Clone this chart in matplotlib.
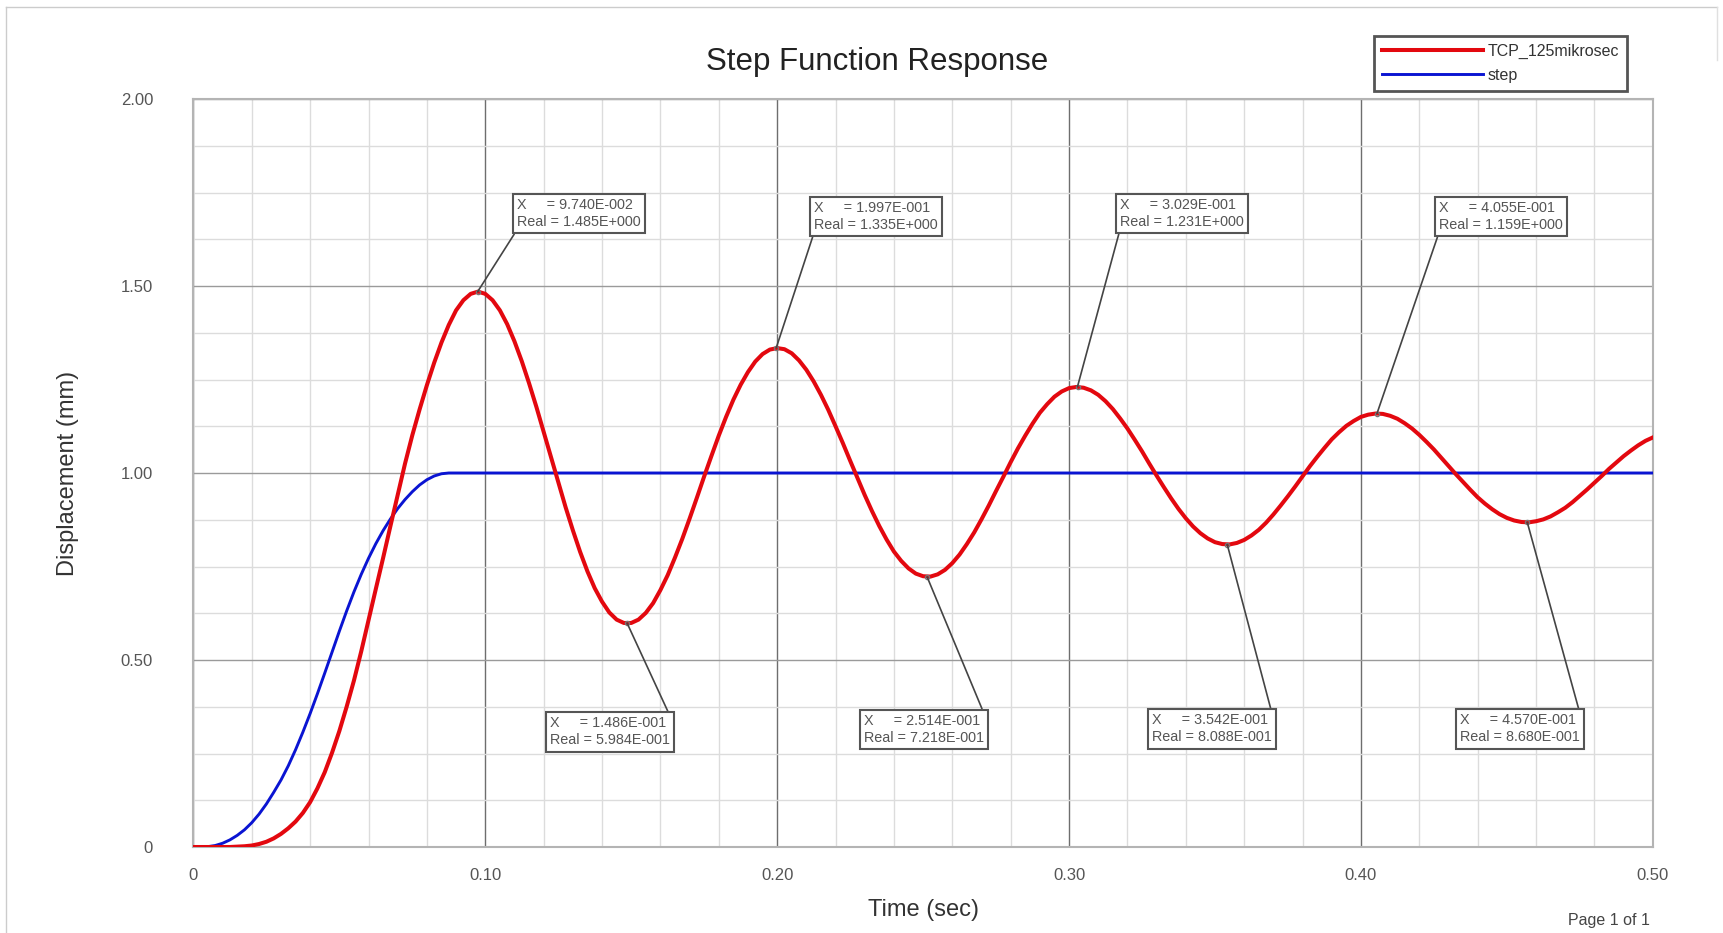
import numpy as np
import matplotlib
matplotlib.use("Agg")
import matplotlib.pyplot as plt
from matplotlib.lines import Line2D

plt.rcParams['font.family'] = ['Liberation Sans', 'DejaVu Sans']

# step input, sampled every 2.5 ms until it settles, then flat to 0.5 s
step_t = list(np.linspace(0.0, 0.0875, 36)) + [0.5]
step_v = [0.000, 0.000, 0.001, 0.004, 0.010, 0.019, 0.031, 0.046, 0.065, 0.088,
          0.115, 0.146, 0.179, 0.217, 0.260, 0.307, 0.357, 0.410, 0.465, 0.521,
          0.577, 0.631, 0.682, 0.729, 0.772, 0.811, 0.846, 0.877, 0.905, 0.929,
          0.950, 0.968, 0.982, 0.992, 0.998, 1.000,
          1.000]

# TCP_125mikrosec response, sampled every 2.5 ms from 0 to 0.5 s
tcp_t = np.linspace(0.0, 0.5, 201)
tcp_v = [0.000, 0.000, 0.000, 0.000, 0.000, 0.000, 0.001, 0.002, 0.004, 0.008,
         0.014, 0.023, 0.035, 0.050, 0.068, 0.091, 0.120, 0.157, 0.200, 0.252,
         0.310, 0.375, 0.445, 0.523, 0.607, 0.690, 0.773, 0.858, 0.941, 1.025,
         1.101, 1.170, 1.235, 1.295, 1.349, 1.396, 1.435, 1.462, 1.479, 1.485,
         1.479, 1.462, 1.435, 1.398, 1.352, 1.299, 1.240, 1.177, 1.110, 1.043,
         0.975, 0.909, 0.847, 0.789, 0.737, 0.692, 0.656, 0.627, 0.608, 0.599,
         0.599, 0.608, 0.626, 0.652, 0.687, 0.727, 0.774, 0.824, 0.878, 0.934,
         0.991, 1.046, 1.100, 1.150, 1.196, 1.236, 1.270, 1.298, 1.318, 1.330,
         1.334, 1.331, 1.320, 1.301, 1.276, 1.245, 1.209, 1.169, 1.125, 1.080,
         1.033, 0.987, 0.941, 0.898, 0.858, 0.822, 0.790, 0.765, 0.745, 0.731,
         0.724, 0.723, 0.729, 0.741, 0.759, 0.782, 0.810, 0.841, 0.876, 0.913,
         0.952, 0.990, 1.029, 1.066, 1.100, 1.132, 1.161, 1.184, 1.204, 1.218,
         1.227, 1.230, 1.228, 1.221, 1.209, 1.192, 1.171, 1.146, 1.119, 1.089,
         1.058, 1.025, 0.993, 0.962, 0.932, 0.904, 0.879, 0.857, 0.839, 0.825,
         0.815, 0.810, 0.809, 0.813, 0.821, 0.833, 0.848, 0.867, 0.889, 0.913,
         0.938, 0.964, 0.991, 1.018, 1.043, 1.067, 1.090, 1.109, 1.126, 1.139,
         1.150, 1.156, 1.159, 1.158, 1.153, 1.145, 1.133, 1.119, 1.102, 1.083,
         1.063, 1.041, 1.019, 0.997, 0.976, 0.955, 0.935, 0.918, 0.903, 0.890,
         0.880, 0.873, 0.869, 0.868, 0.871, 0.876, 0.884, 0.895, 0.907, 0.922,
         0.939, 0.956, 0.974, 0.992, 1.011, 1.028, 1.045, 1.060, 1.074, 1.086,
         1.095]

# marked extrema
peak_t = [0.09740, 0.1997, 0.3029, 0.4055]
peak_v = [1.485, 1.335, 1.231, 1.159]
peak_txt = [("9.740E-002", "1.485E+000"), ("1.997E-001", "1.335E+000"),
            ("3.029E-001", "1.231E+000"), ("4.055E-001", "1.159E+000")]
valley_t = [0.1486, 0.2514, 0.3542, 0.4570]
valley_v = [0.5984, 0.7218, 0.8088, 0.8680]
valley_txt = [("1.486E-001", "5.984E-001"), ("2.514E-001", "7.218E-001"),
              ("3.542E-001", "8.088E-001"), ("4.570E-001", "8.680E-001")]

# label box anchors (bottom-left for peaks, top-right for valleys)
peak_lbl = [(0.1110, 1.652), (0.2127, 1.644), (0.3175, 1.652), (0.4268, 1.644)]
valley_lbl = [(0.1633, 0.350), (0.2709, 0.356), (0.3695, 0.358), (0.4750, 0.358)]

xticks = [0, 0.1, 0.2, 0.3, 0.4, 0.5]
xtick_lbl = ["0", "0.10", "0.20", "0.30", "0.40", "0.50"]
yticks = [0, 0.5, 1.0, 1.5, 2.0]
ytick_lbl = ["0", "0.50", "1.00", "1.50", "2.00"]

W, H = 1723, 933
fig = plt.figure(figsize=(W / 100, H / 100), dpi=100)
ax = fig.add_axes([193.4 / W, 1 - 847 / H, 1459.4 / W, 748 / H])

blue, = ax.plot(step_t, step_v, color="#0a14d2", lw=2.1, zorder=3, label="step")
red, = ax.plot(tcp_t, tcp_v, color="#e3080f", lw=2.9, zorder=4,
               solid_joinstyle="round", label="TCP_125mikrosec")

ax.set_xlim(0, 0.5)
ax.set_ylim(0, 2.0)
ax.set_xticks(xticks)
ax.set_xticklabels(xtick_lbl)
ax.set_yticks(yticks)
ax.set_yticklabels(ytick_lbl)
ax.set_xticks(np.arange(0, 0.5001, 0.02), minor=True)
ax.set_yticks(np.arange(0, 2.0001, 0.125), minor=True)
ax.tick_params(which="both", length=0)
ax.tick_params(axis="x", pad=15, labelsize=12, labelcolor="#555555")
ax.tick_params(axis="y", pad=29, labelsize=12, labelcolor="#555555")

ax.grid(which="minor", color="#dcdcdc", lw=1.0, zorder=0)
ax.grid(which="major", axis="x", color="#6e6e6e", lw=1.0, zorder=1)
ax.grid(which="major", axis="y", color="#9a9a9a", lw=1.0, zorder=1)
ax.set_axisbelow(True)
for s in ax.spines.values():
    s.set_color("#b4b4b4")
    s.set_linewidth(1.5)

ax.set_xlabel("Time (sec)", fontsize=17, color="#333333")
ax.xaxis.set_label_coords(0.5, -63 / 748)
ax.xaxis.label.set_va("center")
ax.set_ylabel("Displacement (mm)", fontsize=17, color="#333333")
ax.yaxis.set_label_coords(-125.4 / 1459.4, 0.5)
ax.yaxis.label.set_va("center")

fig.text(877.5 / W, 1 - 62 / H, "Step Function Response", fontsize=22.5,
         color="#222222", ha="center", va="center")
fig.text(1650 / W, 1 - 921 / H, "Page 1 of 1", fontsize=11.5, color="#444444",
         ha="right", va="center")

box = dict(boxstyle="square,pad=0.3", fc="white", ec="#555555", lw=1.5)
arrow = dict(arrowstyle="-", color="#444444", lw=1.2, shrinkA=0, shrinkB=0)

for (t, v, (xs, rs), pos) in zip(peak_t, peak_v, peak_txt, peak_lbl):
    ax.plot([t], [v], "o", ms=3, mfc="none", mec="#777777", zorder=5)
    ax.annotate("X     = %s\nReal = %s" % (xs, rs), xy=(t, v), xytext=pos,
                ha="left", va="bottom", multialignment="left", fontsize=10.4,
                color="#555555", bbox=box, linespacing=1.3,
                arrowprops=dict(arrow, relpos=(0, 0)), zorder=6)

for (t, v, (xs, rs), pos) in zip(valley_t, valley_v, valley_txt, valley_lbl):
    ax.plot([t], [v], "o", ms=3, mfc="none", mec="#777777", zorder=5)
    ax.annotate("X     = %s\nReal = %s" % (xs, rs), xy=(t, v), xytext=pos,
                ha="right", va="top", multialignment="left", fontsize=10.4,
                color="#555555", bbox=box, linespacing=1.3,
                arrowprops=dict(arrow, relpos=(1, 1)), zorder=6)

leg = fig.legend([red, blue], ["TCP_125mikrosec", "step"], loc="upper left",
                 bbox_to_anchor=(1374 / W, 1 - 36 / H), borderaxespad=0,
                 fontsize=11.5, handlelength=6.3, handletextpad=0.3,
                 borderpad=0.5, labelspacing=0.56, fancybox=False,
                 framealpha=1)
leg.get_frame().set_edgecolor("#555555")
leg.get_frame().set_linewidth(2)
for txt in leg.get_texts():
    txt.set_color("#333333")

# page frame
fig.add_artist(Line2D([6 / W, 1717 / W], [1 - 7 / H, 1 - 7 / H], color="#cccccc", lw=1))
fig.add_artist(Line2D([6 / W, 6 / W], [0, 1 - 7 / H], color="#cccccc", lw=1))
fig.add_artist(Line2D([1717 / W, 1717 / W], [1 - 60 / H, 1 - 7 / H], color="#e0e0e0", lw=1))

fig.savefig("out.png", dpi=100)
